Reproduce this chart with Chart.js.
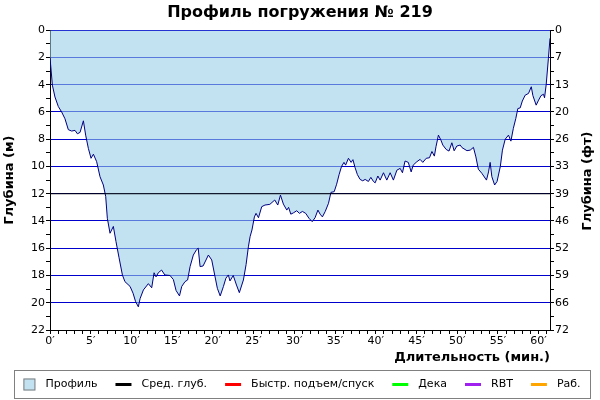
<!DOCTYPE html>
<html>
<head>
<meta charset="utf-8">
<script src="https://cdn.jsdelivr.net/npm/chart.js@4.4.1/dist/chart.umd.min.js"></script>
<style>
  html, body { margin: 0; padding: 0; background: #fff; }
</style>
</head>
<body>
<canvas id="c" width="600" height="400"></canvas>
<script>
// Данные профиля погружения (минуты / метры)
const profileMinutes = [
  0, 0.29, 0.61, 1.02, 1.43, 1.84, 2.25, 2.66, 3.07, 3.36, 3.69, 4.1, 4.38, 4.71, 5.04, 5.33, 5.73,
  6.14, 6.55, 6.84, 7.04, 7.37, 7.78, 8.1, 8.48, 8.89, 9.2, 9.83, 10.2, 10.5, 10.85, 11.06, 11.47,
  12.08, 12.49, 12.78, 13.02, 13.3, 13.7, 14.1, 14.74, 15.15, 15.48, 15.9, 16.18, 16.58, 16.9, 17.2,
  17.6, 18.0, 18.2, 18.43, 18.8, 19.45, 19.86, 20.27, 20.55, 20.9, 21.3, 21.6, 21.9, 22.1, 22.5,
  22.9, 23.25, 23.75, 24.08, 24.36, 24.57, 24.8, 25.1, 25.3, 25.6, 26.0, 26.4, 27.0, 27.6, 27.97,
  28.3, 28.66, 29.08, 29.3, 29.57, 29.9, 30.3, 30.63, 31.0, 31.4, 31.8, 32.2, 32.55, 32.9, 33.17,
  33.45, 33.8, 34.2, 34.5, 34.9, 35.2, 35.5, 35.8, 36.1, 36.3, 36.65, 36.98, 37.2, 37.47, 37.75,
  38.08, 38.4, 38.7, 39.1, 39.4, 39.72, 39.93, 40.26, 40.54, 40.95, 41.36, 41.77, 42.17, 42.6, 43.0,
  43.28, 43.6, 44.0, 44.35, 44.6, 45.05, 45.45, 45.78, 46.2, 46.6, 46.9, 47.2, 47.4, 47.7, 48.0,
  48.24, 48.65, 49.0, 49.35, 49.63, 49.96, 50.37, 50.6, 51.2, 51.6, 52.0, 52.3, 52.6, 53.03, 53.6,
  53.85, 54.05, 54.26, 54.6, 54.9, 55.3, 55.56, 55.9, 56.3, 56.6, 56.9, 57.2, 57.45, 57.74, 58.0,
  58.35, 58.76, 59.1, 59.3, 59.7, 60.0, 60.3, 60.6, 60.73, 60.93, 61.2, 61.4
];
const profileDepth = [
  2.0, 4.03, 4.9, 5.6, 6.0, 6.5, 7.3, 7.4, 7.35, 7.6, 7.5, 6.65, 7.7, 8.67, 9.4, 9.1, 9.65,
  10.75, 11.36, 12.2, 13.8, 14.9, 14.4, 15.5, 16.7, 17.96, 18.45, 18.8, 19.3, 19.9, 20.3, 19.7, 19.06,
  18.6, 18.9, 17.8, 18.1, 17.8, 17.6, 17.96, 18.0, 18.3, 19.1, 19.5, 18.8, 18.45, 18.33, 17.35,
  16.5, 16.1, 16.0, 17.35, 17.3, 16.5, 16.86, 18.1, 18.94, 19.5, 18.8, 18.2, 17.96, 18.4, 18.0,
  18.7, 19.26, 18.33, 17.2, 15.9, 15.15, 14.66, 13.7, 13.44, 13.76, 12.95, 12.83, 12.78, 12.46, 12.83,
  12.1, 12.76, 13.2, 13.0, 13.5, 13.4, 13.25, 13.44, 13.3, 13.44, 13.8, 14.05, 13.76, 13.2, 13.5,
  13.7, 13.3, 12.7, 11.9, 11.85, 11.3, 10.6, 10.0, 9.7, 9.9, 9.4, 9.7, 9.5, 10.1, 10.6,
  10.95, 11.05, 10.95, 11.1, 10.8, 11.1, 11.2, 10.7, 11.0, 10.46, 11.0, 10.46, 11.0, 10.27, 10.14,
  10.46, 9.6, 9.7, 10.4, 9.9, 9.65, 9.48, 9.7, 9.4, 9.36, 8.9, 9.24, 8.55, 7.7, 8.06,
  8.43, 8.75, 8.87, 8.26, 8.85, 8.5, 8.43, 8.62, 8.84, 8.8, 8.6, 9.3, 10.2, 10.5, 11.0,
  10.4, 9.7, 10.75, 11.36, 11.1, 10.0, 8.8, 8.0, 7.7, 8.14, 7.2, 6.48, 5.75, 5.7, 5.2,
  4.77, 4.64, 4.15, 4.8, 5.5, 5.13, 4.8, 4.7, 4.96, 4.0, 2.1, 0.6
];
const avgDepth = 12.0;
const maxMinutes = 61.4;
const maxDepth = 22;

// Подписи делений
const depthLabels = ['0', '2', '4', '6', '8', '10', '12', '14', '16', '18', '20', '22'];
const feetLabels = ['0', '7', '13', '20', '26', '33', '39', '46', '52', '59', '66', '72'];
const minuteLabels = ['0′', '5′', '10′', '15′', '20′', '25′', '30′', '35′', '40′', '45′', '50′', '55′', '60′'];

const legendItems = ['Профиль', 'Сред. глуб.', 'Быстр. подъем/спуск', 'Дека', 'RBT', 'Раб.'];
const legendColors = ['#c2e2f2', '#000000', '#ff0000', '#00ff00', '#a020f0', '#ffa500'];
const rightTitle = 'Глубина (фт)';

const FONT = '"DejaVu Sans", Verdana, sans-serif';
Chart.defaults.font.family = FONT;
Chart.defaults.font.size = 11;
Chart.defaults.color = '#000';

const profilePoints = profileMinutes.map((t, i) => ({ x: t, y: profileDepth[i] }));

// деления с шагом 1 (подписи только на чётных)
function unitTicks(max) {
  const arr = [];
  for (let v = 0; v <= max; v++) arr.push({ value: v });
  return arr;
}

// подпись правой оси и рамка легенды
const extras = {
  id: 'extras',
  afterDraw(chart) {
    const ctx = chart.ctx;
    const area = chart.chartArea;

    ctx.save();
    ctx.font = 'bold 13px ' + FONT;
    ctx.fillStyle = '#000';
    ctx.textAlign = 'center';
    ctx.textBaseline = 'middle';
    ctx.translate(588, (area.top + area.bottom) / 2 + 1);
    ctx.rotate(-Math.PI / 2);
    ctx.fillText(rightTitle, 0, 0);
    ctx.restore();

    // легенда
    ctx.save();
    ctx.strokeStyle = '#808080';
    ctx.lineWidth = 1;
    ctx.strokeRect(14.5, 370.5, 576, 28);
    ctx.font = '11px ' + FONT;
    ctx.textBaseline = 'middle';
    ctx.textAlign = 'left';
    const widths = legendItems.map(t => ctx.measureText(t).width);
    const markW = i => (i === 0 ? 12 : 16);
    let total = 0;
    widths.forEach((w, i) => { total += markW(i) + 10 + w + (i < widths.length - 1 ? 18 : 0); });
    let x = 302 - total / 2;
    const yc = 384.5;
    legendItems.forEach((txt, i) => {
      if (i === 0) {
        ctx.fillStyle = legendColors[0];
        ctx.fillRect(x, yc - 6, 12, 12);
        ctx.strokeStyle = '#7f7f7f';
        ctx.lineWidth = 1;
        ctx.strokeRect(x + 0.5, yc - 5.5, 11, 11);
      } else {
        ctx.strokeStyle = legendColors[i];
        ctx.lineWidth = 3;
        ctx.beginPath();
        ctx.moveTo(x, yc);
        ctx.lineTo(x + 16, yc);
        ctx.stroke();
      }
      x += markW(i) + 10;
      ctx.fillStyle = '#000';
      ctx.fillText(txt, x, yc);
      x += widths[i] + 18;
    });
    ctx.restore();
  }
};

new Chart(document.getElementById('c'), {
  type: 'line',
  data: {
    datasets: [
      {
        label: 'Сред. глуб.',
        data: [{ x: 0, y: avgDepth }, { x: maxMinutes, y: avgDepth }],
        borderColor: '#000000',
        borderWidth: 1,
        pointRadius: 0,
        fill: false,
        order: 0
      },
      {
        label: 'Профиль',
        data: profilePoints,
        borderColor: '#000080',
        borderWidth: 1,
        backgroundColor: 'rgba(152, 205, 232, 0.59)',
        pointRadius: 0,
        tension: 0,
        fill: 'origin',
        order: 1
      }
    ]
  },
  options: {
    responsive: false,
    devicePixelRatio: 1,
    animation: false,
    layout: { padding: { bottom: 28 } },
    plugins: {
      legend: { display: false },
      tooltip: { enabled: false },
      title: {
        display: true,
        text: 'Профиль погружения № 219',
        font: { size: 16, weight: 'bold' },
        color: '#000',
        padding: { top: 3, bottom: 8 }
      }
    },
    scales: {
      x: {
        type: 'linear',
        min: 0,
        max: maxMinutes,
        afterBuildTicks: s => { s.ticks = unitTicks(61); },
        afterFit: s => { s.height = 42; },
        ticks: {
          autoSkip: false,
          maxRotation: 0,
          minRotation: 0,
          padding: 1,
          callback: v => (v % 5 === 0 ? minuteLabels[v / 5] : '')
        },
        grid: { drawOnChartArea: false, tickLength: 4, tickColor: '#000' },
        border: { color: '#000' },
        title: {
          display: true,
          text: 'Длительность (мин.)',
          align: 'end',
          font: { size: 13, weight: 'bold' },
          padding: { top: 0, bottom: 7 }
        }
      },
      y: {
        type: 'linear',
        position: 'left',
        reverse: true,
        min: 0,
        max: maxDepth,
        afterBuildTicks: s => { s.ticks = unitTicks(maxDepth); },
        afterFit: s => { s.width = 50; },
        ticks: {
          autoSkip: false,
          padding: 1,
          callback: v => (v % 2 === 0 ? depthLabels[v / 2] : '')
        },
        grid: {
          color: c => (c.tick && c.tick.value % 2 === 0 ? '#0000cc' : 'rgba(0,0,0,0)'),
          tickColor: '#000',
          tickLength: 4
        },
        border: { color: '#000' },
        title: {
          display: true,
          text: 'Глубина (м)',
          font: { size: 13, weight: 'bold' },
          padding: { top: 2, bottom: 0 }
        }
      },
      y2: {
        type: 'linear',
        position: 'right',
        reverse: true,
        min: 0,
        max: maxDepth,
        afterBuildTicks: s => { s.ticks = unitTicks(maxDepth); },
        afterFit: s => { s.width = 50; },
        ticks: {
          autoSkip: false,
          padding: 1,
          callback: v => (v % 2 === 0 ? feetLabels[v / 2] : '')
        },
        grid: { drawOnChartArea: false, tickColor: '#000', tickLength: 4 },
        border: { color: '#000' }
      }
    }
  },
  plugins: [extras]
});
</script>
</body>
</html>
